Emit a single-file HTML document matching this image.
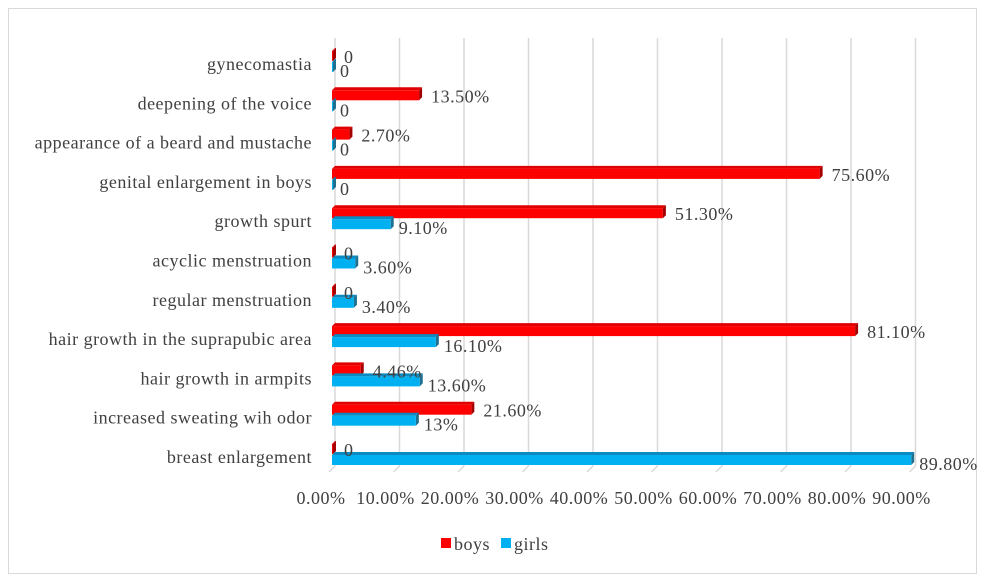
<!DOCTYPE html>
<html><head><meta charset="utf-8"><style>
body{margin:0;background:#fff;}
svg text{font-family:"Liberation Serif",serif;fill:#404040;letter-spacing:0.5px;}
</style></head><body>
<svg id="chart" width="985" height="582" xmlns="http://www.w3.org/2000/svg">
<rect x="8.5" y="8.5" width="968" height="565" fill="#fff" stroke="#d9d9d9"/>
<g id="grid"></g><g id="bars"></g><g id="labels"></g>
<g>
<rect x="441" y="538" width="10" height="10" fill="#ff0000"/>
<text x="454" y="550" font-size="18">boys</text>
<rect x="501" y="538" width="10" height="10" fill="#00b0f0"/>
<text x="514" y="550" font-size="18">girls</text>
</g>
</svg>
<script>
const categories=["gynecomastia","deepening of the voice","appearance of a beard and mustache","genital enlargement in boys","growth spurt","acyclic menstruation","regular menstruation","hair growth in the suprapubic area","hair growth in armpits","increased sweating wih odor","breast enlargement"];
const boys=[0,13.5,2.7,75.6,51.3,0,0,81.1,4.46,21.6,0];
const girls=[0,0,0,0,9.1,3.6,3.4,16.1,13.6,13,89.8];
const boysLabels=["0","13.50%","2.70%","75.60%","51.30%","0","0","81.10%","4.46%","21.60%","0"];
const girlsLabels=["0","0","0","0","9.10%","3.60%","3.40%","16.10%","13.60%","13%","89.80%"];
const ticks=[0,10,20,30,40,50,60,70,80,90];
const tickLabels=["0.00%","10.00%","20.00%","30.00%","40.00%","50.00%","60.00%","70.00%","80.00%","90.00%"];
const NS="http://www.w3.org/2000/svg";
const xs=v=>332+v*6.45;
const yc=i=>64+i*39.3;
function mk(tag,attrs,parent,txt){const e=document.createElementNS(NS,tag);for(const k in attrs)e.setAttribute(k,attrs[k]);if(txt!==undefined)e.textContent=txt;parent.appendChild(e);return e;}
const g=document.getElementById('grid'),b=document.getElementById('bars'),l=document.getElementById('labels');
ticks.forEach((t,i)=>{
 const ln=mk('line',{x1:xs(t)+3,x2:xs(t)+3,y1:38,y2:466,stroke:'#d9d9d9','stroke-width':1.5},g);
 
 
 const ft=mk('line',{x1:xs(t)+3,x2:xs(t)-3,y1:466,y2:472,stroke:'#d9d9d9','stroke-width':1.5},g);
 
 
 const tx=mk('text',{x:xs(t)-11,y:504,'font-size':18,'text-anchor':'middle',fill:'#595959'},l,tickLabels[i]);
 
 
});
function bar(v,y,h,fill,side,top,name){
 const w=Math.max(xs(v)-332,1);
 const grp=mk('g',{},b);
 
 
 mk('polygon',{points:`332,${y} ${332+w},${y} ${335+w},${y-3} 335,${y-3}`,fill:top},grp);
 mk('polygon',{points:`${332+w},${y} ${335+w},${y-3} ${335+w},${y+h-3} ${332+w},${y+h}`,fill:side},grp);
 mk('rect',{x:332,y:y,width:w,height:h,fill:fill},grp);
}
categories.forEach((c,i)=>{
 const y=yc(i);
 const t=mk('text',{x:312,y:y+6,'font-size':18,'text-anchor':'end',fill:'#404040'},l,c);
 
 
 bar(boys[i],y-13,10,'#ff0000','#a50000','#e00000','bar-boys-'+i);
 bar(girls[i],y-2,10,'#00b0f0','#1f6f8f','#0a8ac0','bar-girls-'+i);
 const bl=mk('text',{x:xs(boys[i])+12,y:y-1,'font-size':18},l,boysLabels[i]);
 
 
 const gl=mk('text',{x:xs(girls[i])+8,y:y+13,'font-size':18},l,girlsLabels[i]);
 
 
});
</script>
</body></html>
